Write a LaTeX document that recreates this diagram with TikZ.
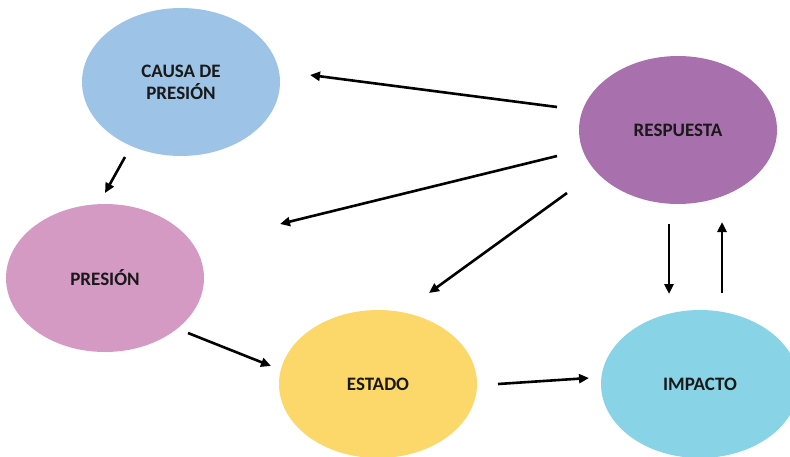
\documentclass[tikz,border=0pt]{standalone}
\usepackage{fontspec}
\setmainfont{Carlito}
\usepackage{xcolor}
\usepackage{tikz}
\usetikzlibrary{shapes.geometric,arrows.meta}

\definecolor{causacol}{HTML}{9DC3E6}
\definecolor{respcol}{HTML}{A970AE}
\definecolor{prescol}{HTML}{D59AC3}
\definecolor{estcol}{HTML}{FCD76A}
\definecolor{impcol}{HTML}{88D3E5}

\tikzset{
    elli/.style = {ellipse, minimum width = 198pt, minimum height = 148pt, inner sep = 0pt, align = center, text = black!90},
    arr/.style = {line width = 2.6pt, -{Triangle[length = 10pt, width = 9pt]}}
}

\begin{document}
\begin{tikzpicture}[x = 1pt, y = -1pt, font = \bfseries\fontsize{19}{22}\selectfont]
            \useasboundingbox (0, 0) rectangle (790, 456);
            \clip (0, 0) rectangle (790, 456);
            \node (causa) at (181, 82) [elli, fill = causacol] {CAUSA DE\\PRESIÓN};
            \node (respuesta) at (678, 130) [elli, fill = respcol] {RESPUESTA};
            \node (presion) at (105, 278) [elli, fill = prescol] {PRESIÓN};
            \node (estado) at (378, 384) [elli, fill = estcol] {ESTADO};
            \node (impacto) at (700, 384) [elli, fill = impcol] {IMPACTO};
            % free arrow ends
            \coordinate (r1) at (557, 107);
            \coordinate (c1) at (310, 75);
            \coordinate (r2) at (557, 156);
            \coordinate (p1) at (280, 224);
            \coordinate (r3) at (567, 193);
            \coordinate (e1) at (429, 293);
            \coordinate (c2) at (125, 157);
            \coordinate (p2) at (105, 193);
            \coordinate (p3) at (188, 333);
            \coordinate (e2) at (271, 366);
            \coordinate (e3) at (498, 384);
            \coordinate (i1) at (589, 378);
            \coordinate (r4) at (669, 224);
            \coordinate (i2) at (669, 294);
            \coordinate (i3) at (722, 293);
            \coordinate (r5) at (722, 222);
            \draw [arr] (r1) -- (c1);
            \draw [arr] (r2) -- (p1);
            \draw [arr] (r3) -- (e1);
            \draw [arr] (c2) -- (p2);
            \draw [arr] (p3) -- (e2);
            \draw [arr] (e3) -- (i1);
            \draw [arr] (r4) -- (i2);
            \draw [arr] (i3) -- (r5);
        \end{tikzpicture}
\end{document}
